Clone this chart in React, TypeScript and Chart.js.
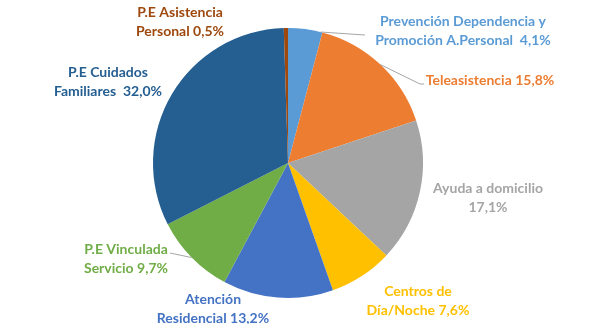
import React, { useEffect, useRef } from "react";
import { Chart, registerables } from "chart.js";

Chart.register(...registerables);

const categories = [
  "Prevención Dependencia y Promoción A.Personal",
  "Teleasistencia",
  "Ayuda a domicilio",
  "Centros de Día/Noche",
  "Atención Residencial",
  "P.E Vinculada Servicio",
  "P.E Cuidados Familiares",
  "P.E Asistencia Personal",
];
const values = [4.1, 15.8, 17.1, 7.6, 13.2, 9.7, 32.0, 0.5];
const colors = ["#5B9BD5", "#ED7D31", "#A5A5A5", "#FFC000", "#4472C4", "#70AD47", "#255E91", "#9E480E"];
const labelNameLines = [
  ["Prevención Dependencia y", "Promoción A.Personal "],
  ["Teleasistencia"],
  ["Ayuda a domicilio", ""],
  ["Centros de", "Día/Noche"],
  ["Atención", "Residencial"],
  ["P.E Vinculada", "Servicio"],
  ["P.E Cuidados", "Familiares "],
  ["P.E Asistencia", "Personal"],
];

// label layout (center x, first-line center y)
const labelPos: [number, number][] = [
  [463, 21],
  [490, 80],
  [488, 188],
  [418, 291],
  [213, 299],
  [126, 249],
  [108, 72],
  [180, 12],
];
const leaders = [
  { index: 0, t: 0.95, to: [[365, 35]] },
  { index: 1, t: 0.5, to: [[420, 84], [424, 84]] },
  { index: 5, t: 0.5, to: [[170, 253]] },
];

const fmt = (v: number) => v.toFixed(1).replace(".", ",") + "%";

const labelPlugin = {
  id: "outLabels",
  afterDraw(chart: any) {
    const ctx = chart.ctx;
    const meta = chart.getDatasetMeta(0);
    ctx.save();
    ctx.strokeStyle = "#A6A6A6";
    ctx.lineWidth = 1;
    leaders.forEach((l) => {
      const arc: any = meta.data[l.index];
      const a = arc.startAngle + (arc.endAngle - arc.startAngle) * l.t;
      ctx.beginPath();
      ctx.moveTo(arc.x + Math.cos(a) * arc.outerRadius, arc.y + Math.sin(a) * arc.outerRadius);
      l.to.forEach((p) => ctx.lineTo(p[0], p[1]));
      ctx.stroke();
    });
    ctx.font = "bold 14px Lato";
    ctx.textAlign = "center";
    ctx.textBaseline = "middle";
    labelNameLines.forEach((lines, i) => {
      const txt = lines.slice();
      const last = txt.length - 1;
      txt[last] = (txt[last] ? txt[last] + " " : "") + fmt(values[i]);
      ctx.fillStyle = colors[i];
      txt.forEach((s, k) => ctx.fillText(s, labelPos[i][0], labelPos[i][1] + k * 19));
    });
    ctx.restore();
  },
};

export default function App() {
  const ref = useRef<HTMLCanvasElement>(null);
  useEffect(() => {
    if (!ref.current) return;
    const chart = new Chart(ref.current, {
      type: "pie",
      data: {
        labels: categories,
        datasets: [
          {
            data: values,
            backgroundColor: colors,
            borderWidth: 0,
          },
        ],
      },
      options: {
        animation: false,
        responsive: true,
        maintainAspectRatio: false,
        layout: { padding: { top: 28, bottom: 26, left: 0, right: 24 } },
        plugins: { legend: { display: false }, tooltip: { enabled: false } },
      },
      plugins: [labelPlugin],
    });
    return () => chart.destroy();
  }, []);
  return (
    <div style={{ position: "absolute", left: 0, top: 0, width: 600, height: 324, background: "#fff" }}>
      <canvas ref={ref} />
    </div>
  );
}
